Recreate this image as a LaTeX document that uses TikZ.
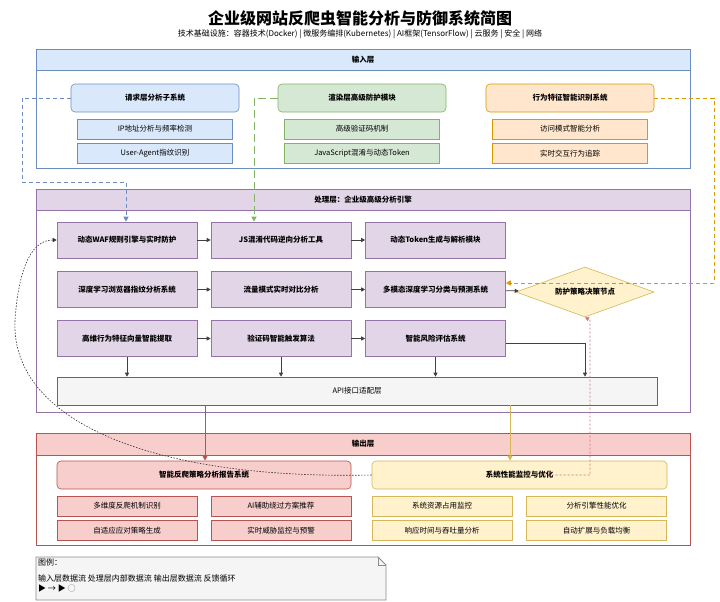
\documentclass[tikz,border=0pt]{standalone}
\usepackage{fontspec}
\setmainfont{Noto Sans CJK SC}
\usetikzlibrary{arrows.meta,shapes.geometric}
\definecolor{bF}{HTML}{DAE8FC}\definecolor{bS}{HTML}{6C8EBF}
\definecolor{gF}{HTML}{D5E8D4}\definecolor{gS}{HTML}{82B366}
\definecolor{oF}{HTML}{FFE6CC}\definecolor{oS}{HTML}{D79B00}
\definecolor{pF}{HTML}{E1D5E7}\definecolor{pS}{HTML}{9673A6}
\definecolor{rF}{HTML}{F8CECC}\definecolor{rS}{HTML}{B85450}
\definecolor{yF}{HTML}{FFF2CC}\definecolor{yS}{HTML}{D6B656}
\definecolor{kF}{HTML}{F5F5F5}\definecolor{kS}{HTML}{666666}
\begin{document}
\begin{tikzpicture}[x=1pt,y=-1pt,
 bx/.style={draw=#1S,fill=#1F,line width=0.6pt,inner sep=0pt},
 txt/.style={font=\fontsize{7.5}{9}\selectfont},
 btxt/.style={font=\bfseries\fontsize{7.5}{9}\selectfont},
 ga/.style={draw=black!75,line width=0.8pt,-{Triangle[length=4pt,width=4pt]}}]
\useasboundingbox (0,0) rectangle (720,602);
\fill[white] (0,0) rectangle (720,602);
\node[font=\bfseries\fontsize{16}{18}\selectfont] (title) at (360,18) {企业级网站反爬虫智能分析与防御系统简图};
\node[font=\fontsize{8}{10}\selectfont] (sub) at (360,34) {技术基础设施：容器技术(Docker) | 微服务编排(Kubernetes) | AI框架(TensorFlow) | 云服务 | 安全 | 网络};
% layers
\newcommand\layer[5]{\draw[draw=#1S,line width=0.6pt,fill=white] (36,#2) rectangle (690,#4);
 \draw[draw=#1S,fill=#1F,line width=0.6pt] (36,#2) rectangle (690,#3);
 \node[btxt] (#5) at (363,{(#2+#3)/2}) {\fontsize{8.5}{10}\selectfont\bfseries #5};}
\draw[draw=bS,line width=0.6pt] (36,49) rectangle (690,168);
\draw[draw=bS,fill=bF,line width=0.6pt] (36,49) rectangle (690,70);
\node[btxt] (inL) at (363,59.5) {输入层};
\draw[draw=pS,line width=0.6pt] (36,189) rectangle (690,412);
\draw[draw=pS,fill=pF,line width=0.6pt] (36,189) rectangle (690,210);
\node[btxt] (prL) at (363,199.5) {处理层：企业级高级分析引擎};
\draw[draw=rS,line width=0.6pt] (36,433) rectangle (690,545);
\draw[draw=rS,fill=rF,line width=0.6pt] (36,433) rectangle (690,455);
\node[btxt] (ouL) at (363,444) {输出层};
% input subsystems
\node[bx=b,rounded corners=4pt,minimum width=168pt,minimum height=28pt,btxt] (h1) at (155,98) {请求层分析子系统};
\node[bx=g,rounded corners=4pt,minimum width=168pt,minimum height=28pt,btxt] (h2) at (362,98) {渲染层高级防护模块};
\node[bx=o,rounded corners=4pt,minimum width=168pt,minimum height=28pt,btxt] (h3) at (570,98) {行为特征智能识别系统};
\node[bx=b,minimum width=155pt,minimum height=20pt,txt] (i1) at (155,129) {IP地址分析与频率检测};
\node[bx=b,minimum width=155pt,minimum height=20pt,txt] (i2) at (155,153.5) {User-Agent指纹识别};
\node[bx=g,minimum width=155pt,minimum height=20pt,txt] (i3) at (362,129) {高级验证码机制};
\node[bx=g,minimum width=155pt,minimum height=20pt,txt] (i4) at (362,153.5) {JavaScript混淆与动态Token};
\node[bx=o,minimum width=155pt,minimum height=20pt,txt] (i5) at (570,129) {访问模式智能分析};
\node[bx=o,minimum width=155pt,minimum height=20pt,txt] (i6) at (570,153.5) {实时交互行为追踪};
% process
\tikzset{pb/.style={bx=p,minimum width=140pt,minimum height=36pt,btxt}}
\node[pb] (a1) at (127,240) {动态WAF规则引擎与实时防护};
\node[pb] (a2) at (281,240) {JS混淆代码逆向分析工具};
\node[pb] (a3) at (435.5,240) {动态Token生成与解析模块};
\node[pb] (b1) at (127,289.5) {深度学习浏览器指纹分析系统};
\node[pb] (b2) at (281,289.5) {流量模式实时对比分析};
\node[pb] (b3) at (435.5,289.5) {多模态深度学习分类与预测系统};
\node[pb] (c1) at (127,338.5) {高维行为特征向量智能提取};
\node[pb] (c2) at (281,338.5) {验证码智能触发算法};
\node[pb] (c3) at (435.5,338.5) {智能风险评估系统};
\node[diamond,aspect=2.8,draw=yS,fill=yF,line width=0.6pt,inner sep=1pt,minimum width=138pt,minimum height=50pt,btxt] (dm) at (585,292) {防护策略决策节点};
\node[bx=k,minimum width=600pt,minimum height=28pt,txt] (api) at (357,391) {API接口适配层};
\draw[ga] (a1) -- (a2); \draw[ga] (a2) -- (a3);
\draw[ga] (b1) -- (b2); \draw[ga] (b2) -- (b3); \draw[ga] (b3) -- (dm);
\draw[ga] (c1) -- (c2); \draw[ga] (c2) -- (c3);
\draw[ga] (c1.south) -- (c1.south|-api.north);
\draw[ga] (c2.south) -- (c2.south|-api.north);
\draw[ga] (c3.south) -- (c3.south|-api.north);
\coordinate (cr) at (585,343);
\draw[ga] (c3.east|-cr) -- (cr) -- (cr|-api.north);
% output
\node[bx=r,rounded corners=4pt,minimum width=294pt,minimum height=28pt,btxt] (o1) at (204,475) {智能反爬策略分析报告系统};
\node[bx=y,rounded corners=4pt,minimum width=295pt,minimum height=28pt,btxt] (o2) at (519.5,475) {系统性能监控与优化};
\tikzset{ob/.style={bx=#1,minimum width=140pt,minimum height=20pt,txt}}
\node[ob=r] (r1) at (127,506) {多维度反爬机制识别};
\node[ob=r] (r2) at (281,506) {AI辅助绕过方案推荐};
\node[ob=r] (r3) at (127,530.5) {自适应应对策略生成};
\node[ob=r] (r4) at (281,530.5) {实时威胁监控与预警};
\node[ob=y] (y1) at (442,506) {系统资源占用监控};
\node[ob=y] (y2) at (596.5,506) {分析引擎性能优化};
\node[ob=y] (y3) at (442,530.5) {响应时间与吞吐量分析};
\node[ob=y] (y4) at (596.5,530.5) {自动扩展与负载均衡};
% flows
\draw[draw=bS,line width=1pt,dash pattern=on 4pt off 3pt,-{Triangle[length=5pt,width=5pt]}] (h1.west) -- (22,98) -- (22,182) -- (126,182) -- (a1.north-|126,0);
\draw[draw=gS,line width=1pt,dash pattern=on 8pt off 4pt,-{Triangle[length=5pt,width=5pt]}] (h2.west) -- (254,98) -- (a1.north-|254,0);
\draw[draw=oS,line width=1pt,dash pattern=on 4pt off 3pt,-{Triangle[length=5pt,width=5pt]}] (h3.east) -- (714,98) -- (714,283) -- (b3.east|-0,283);
\draw[draw=rS,line width=1pt,-{Triangle[length=5pt,width=5pt]}] (205,405) -- (o1.north-|205,0);
\draw[draw=yS,line width=1pt,-{Triangle[length=5pt,width=5pt]}] (510,405) -- (o2.north-|510,0);
\draw[draw=rS!80,line width=0.6pt,dash pattern=on 2pt off 2pt,-{Triangle[length=4pt,width=4pt]}] (o2.center) -- (590,475) -- (590,320) -- (dm.south);
\draw[black!80,line width=0.6pt,dash pattern=on 1.5pt off 1.5pt,-{Triangle[length=4pt,width=4pt]}] (o2.west) .. controls (150,480) and (10,420) .. (15,320) .. controls (20,250) and (40,240) .. (a1.west);
% legend
\draw[draw=black!45,fill=kF,line width=0.8pt] (36,557) -- (378,557) -- (386,565) -- (386,600) -- (36,600) -- cycle;
\draw[draw=black!45,line width=0.6pt] (378,557) -- (378,565) -- (386,565);
\node[anchor=north west,inner sep=1pt,font=\fontsize{8}{10}\selectfont,align=left] (lg) at (37,558) {图例：\\[6pt]输入层数据流 处理层内部数据流 输出层数据流 反馈循环\\ ▶ → ▶ ◌};
\end{tikzpicture}
\end{document}
